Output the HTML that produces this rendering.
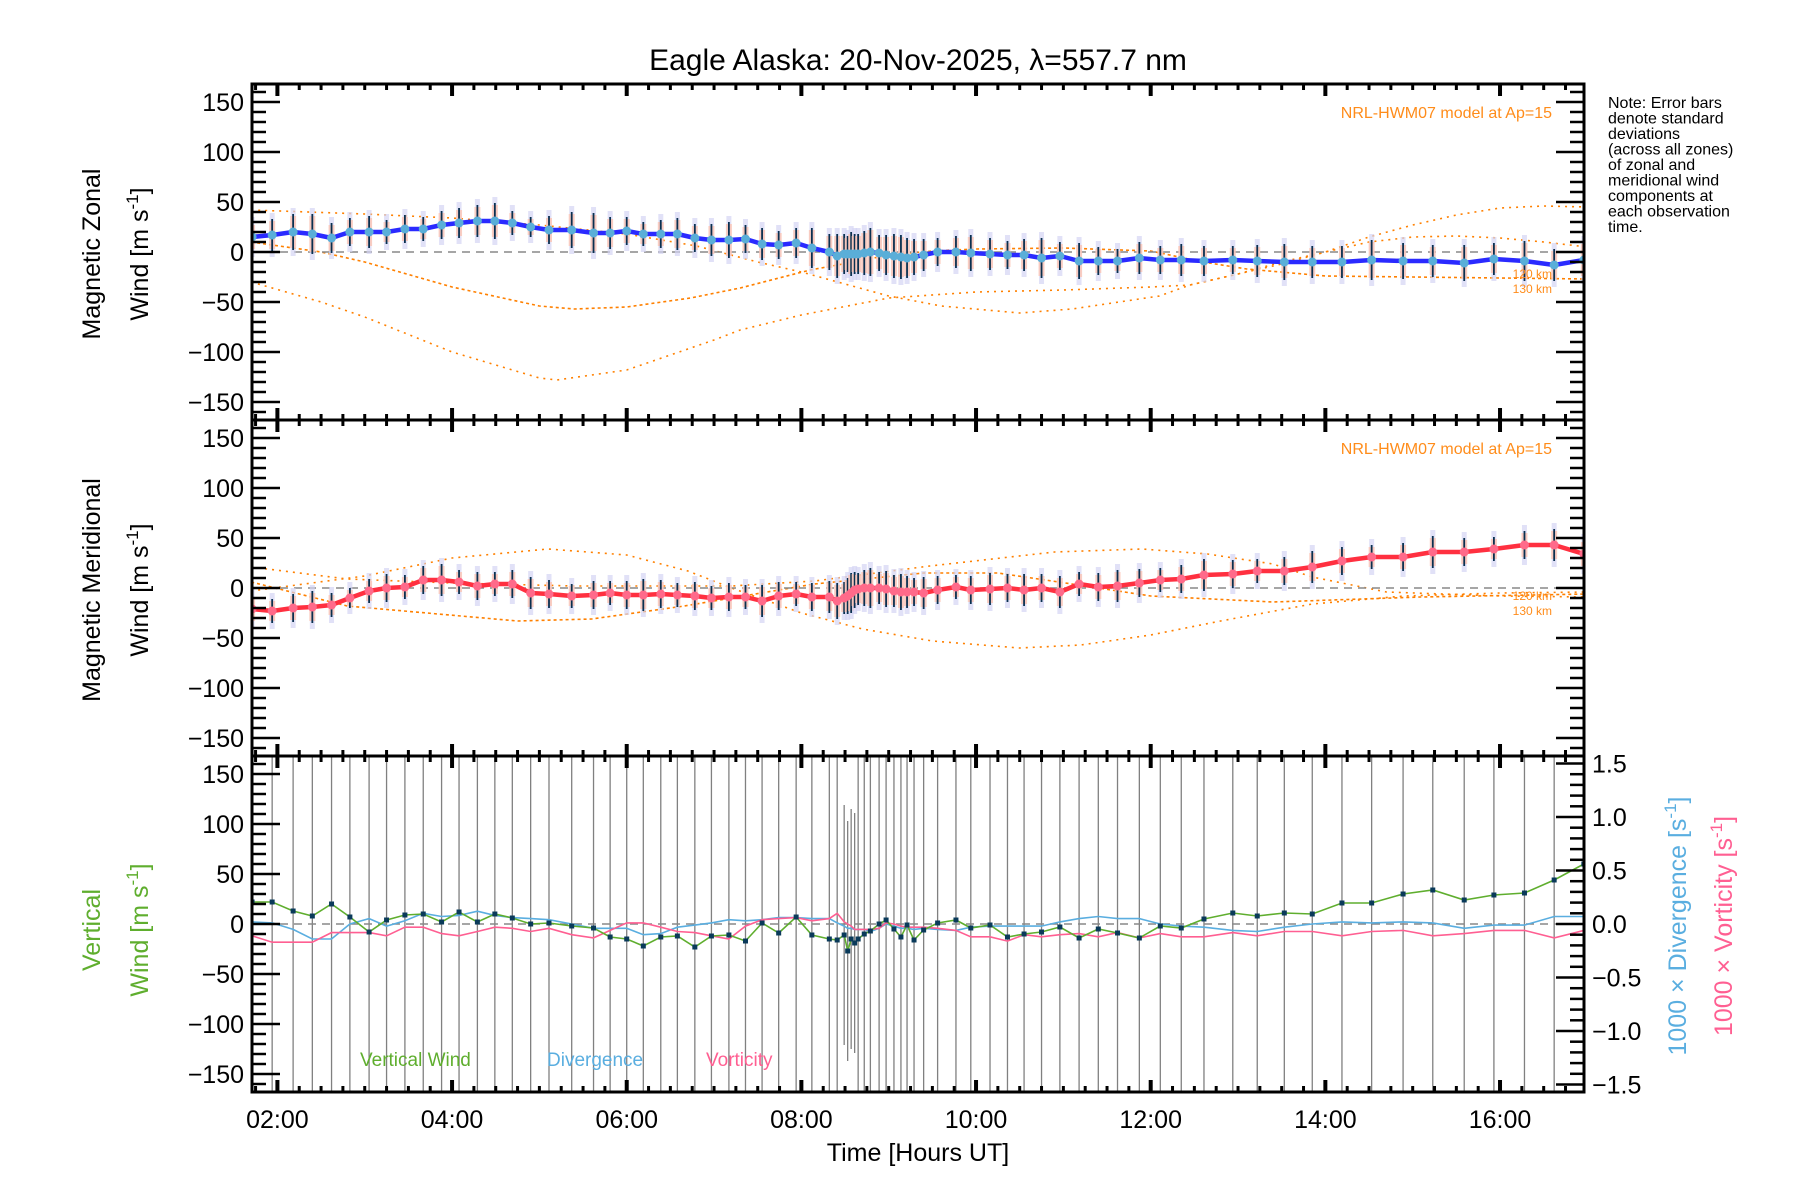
<!DOCTYPE html>
<html><head><meta charset="utf-8"><style>
html,body{margin:0;padding:0;background:#fff;}
svg{display:block;font-family:"Liberation Sans",sans-serif;}
</style></head><body>
<svg id="chart" width="1800" height="1200" viewBox="0 0 1800 1200" xmlns="http://www.w3.org/2000/svg">
<rect x="0" y="0" width="1800" height="1200" fill="#fff"/>
<text x="918" y="70" font-size="30" text-anchor="middle" fill="#000">Eagle Alaska: 20-Nov-2025, λ=557.7 nm</text>
<g id="p1"></g>
<g id="p2"></g>
<g id="p3"></g>
<g id="axes"></g>
<g font-size="16" fill="#000">
<text x="1608" y="108">Note: Error bars</text>
<text x="1608" y="123.5">denote standard</text>
<text x="1608" y="139">deviations</text>
<text x="1608" y="154.5">(across all zones)</text>
<text x="1608" y="170">of zonal and</text>
<text x="1608" y="185.5">meridional wind</text>
<text x="1608" y="201">components at</text>
<text x="1608" y="216.5">each observation</text>
<text x="1608" y="232">time.</text>
</g>
<text transform="translate(100,254) rotate(-90)" font-size="25" text-anchor="middle">Magnetic Zonal</text>
<text transform="translate(148,254) rotate(-90)" font-size="25" text-anchor="middle">Wind [m s<tspan dy="-10" font-size="17">-1</tspan><tspan dy="10">]</tspan></text>
<text transform="translate(100,590) rotate(-90)" font-size="25" text-anchor="middle">Magnetic Meridional</text>
<text transform="translate(148,590) rotate(-90)" font-size="25" text-anchor="middle">Wind [m s<tspan dy="-10" font-size="17">-1</tspan><tspan dy="10">]</tspan></text>
<text transform="translate(100,930) rotate(-90)" font-size="25" text-anchor="middle" fill="#5fae2e">Vertical</text>
<text transform="translate(148,930) rotate(-90)" font-size="25" text-anchor="middle" fill="#5fae2e">Wind [m s<tspan dy="-10" font-size="17">-1</tspan><tspan dy="10">]</tspan></text>
<text transform="translate(1686,926) rotate(-90)" font-size="25" text-anchor="middle" fill="#5aaee0">1000 × Divergence [s<tspan dy="-10" font-size="17">-1</tspan><tspan dy="10">]</tspan></text>
<text transform="translate(1732,926) rotate(-90)" font-size="25" text-anchor="middle" fill="#ff5f92">1000 × Vorticity [s<tspan dy="-10" font-size="17">-1</tspan><tspan dy="10">]</tspan></text>
<text x="918" y="1161" font-size="25" text-anchor="middle">Time [Hours UT]</text>
<text x="360" y="1066" font-size="19" fill="#5fae2e">Vertical Wind</text>
<text x="547" y="1066" font-size="19" fill="#5aaee0">Divergence</text>
<text x="706" y="1066" font-size="19" fill="#ff5f92">Vorticity</text>
<text x="1552" y="118" font-size="16" text-anchor="end" fill="#ff8c1a">NRL-HWM07 model at Ap=15</text>
<text x="1552" y="454" font-size="16" text-anchor="end" fill="#ff8c1a">NRL-HWM07 model at Ap=15</text>
<text x="1552" y="278" font-size="12" text-anchor="end" fill="#ff8c1a">120 km</text>
<text x="1552" y="293" font-size="12" text-anchor="end" fill="#ff8c1a">130 km</text>
<text x="1552" y="600" font-size="12" text-anchor="end" fill="#ff8c1a">120 km</text>
<text x="1552" y="615" font-size="12" text-anchor="end" fill="#ff8c1a">130 km</text>
</svg>
<script>
// ---- data ----
const hours = [1.71,1.94,2.18,2.40,2.62,2.83,3.05,3.25,3.46,3.67,3.88,4.08,4.29,4.49,4.69,4.90,5.11,5.37,5.62,5.81,6.00,6.19,6.39,6.58,6.78,6.97,7.17,7.36,7.55,7.74,7.94,8.12,8.32,8.41,8.49,8.53,8.57,8.61,8.65,8.72,8.79,8.89,8.97,9.06,9.14,9.21,9.29,9.40,9.56,9.77,9.94,10.16,10.36,10.55,10.75,10.96,11.18,11.40,11.62,11.87,12.11,12.35,12.61,12.94,13.22,13.53,13.85,14.19,14.53,14.89,15.23,15.59,15.93,16.28,16.62,16.96];
const zonal = [15,17,20,18,14,20,20,20,23,23,27,29,31,31,29,25,22,22,19,19,21,18,18,18,14,12,12,13,8,7,9,4,0,-4,-2,-2,-2,-2,-2,-1,0,-1,-3,-4,-5,-6,-5,-3,0,0,-1,-2,-3,-3,-6,-4,-9,-9,-9,-6,-8,-8,-9,-8,-9,-10,-10,-10,-8,-9,-9,-11,-7,-9,-13,-8];
const zonalErr = [14,16,18,20,15,14,16,12,14,12,14,15,16,18,12,10,14,18,20,16,14,12,14,16,14,16,18,14,16,14,15,20,18,22,20,18,22,20,20,22,24,18,20,22,22,20,18,16,14,16,18,16,14,16,20,14,18,14,12,16,14,16,15,14,16,18,16,16,20,18,16,18,16,20,16,18];
const merid = [-21,-23,-20,-19,-17,-10,-3,0,1,8,8,6,2,4,4,-5,-6,-8,-7,-5,-7,-7,-6,-7,-8,-10,-9,-9,-13,-8,-6,-9,-9,-13,-10,-8,-5,-2,-1,0,0,0,-1,-3,-4,-4,-4,-5,-2,1,-2,-1,0,-2,0,-4,4,1,2,5,8,9,13,14,17,17,21,27,31,31,36,36,39,43,43,34];
const meridErr = [14,12,14,16,12,10,12,14,12,14,16,12,14,12,14,16,14,12,14,12,14,16,14,12,14,12,14,12,16,14,12,14,16,18,16,18,20,18,16,18,20,16,18,16,18,16,14,16,14,12,14,16,14,16,14,16,12,14,16,14,12,14,16,14,12,14,16,14,12,14,16,14,12,14,16,14];
const vert = [22,22,13,8,20,7,-8,4,9,10,2,12,2,10,6,0,1,-2,-4,-13,-15,-22,-13,-12,-23,-12,-11,-17,1,-9,7,-11,-15,-16,-11,-27,-15,-19,-15,-10,-7,0,4,-5,-13,-1,-16,-6,1,4,-4,-1,-13,-10,-8,-3,-14,-5,-9,-14,-2,-4,5,11,8,11,10,21,21,30,34,24,29,31,44,60];
const diverg = [0.02,0.01,-0.05,-0.14,-0.14,0,0.05,-0.02,0.03,0.10,0.07,0.08,0.12,0.08,0.06,0.05,0.04,0,-0.04,-0.04,-0.04,-0.10,-0.09,-0.03,-0.01,0.01,0.04,0.03,0.04,0.06,0.06,0.05,0.05,0.01,-0.02,-0.04,-0.04,-0.05,-0.05,-0.05,-0.07,-0.04,0,-0.02,-0.04,-0.04,-0.05,-0.04,-0.05,-0.06,-0.03,-0.02,-0.02,-0.02,-0.02,0.02,0.05,0.07,0.05,0.05,0,-0.02,-0.03,-0.06,-0.07,-0.03,0,0.02,0.01,0.02,0.01,-0.04,-0.01,-0.01,0.07,0.07];
const vort = [-0.11,-0.17,-0.17,-0.17,-0.08,-0.08,-0.08,-0.11,-0.03,-0.03,-0.09,-0.11,-0.07,-0.03,-0.04,-0.07,-0.04,-0.10,-0.13,-0.06,0.01,0.01,-0.03,-0.07,-0.08,-0.11,-0.14,-0.02,0.04,0.05,0.06,0.03,0.05,0.10,0.02,0,-0.02,-0.05,-0.05,-0.05,-0.05,-0.04,0.01,0,-0.02,-0.03,-0.03,-0.03,-0.04,-0.06,-0.12,-0.12,-0.16,-0.10,-0.12,-0.10,-0.09,-0.12,-0.08,-0.13,-0.09,-0.12,-0.12,-0.08,-0.11,-0.07,-0.07,-0.11,-0.07,-0.06,-0.11,-0.09,-0.06,-0.06,-0.13,-0.06];
// model curves (hours / m s-1)
const zModelAHours = [1.7,2.5,3,4,5,5.2,6,7,7.3,8,9,10,11,12,12.45,13,13.5,14,14.5,15,15.5,16,16.5,17];
const zModelA = [-30,-50,-65,-100,-126,-128,-118,-88,-78,-63,-46,-40,-38,-35,-33,-22,-12,0,15,27,37,44,46,45];
const zModelBHours = [1.7,2.5,3,4,5,5.4,6,6.73,7.3,8.1,8.6,9,9.5,10,11,12,12.6,13.1,14,15,16,17];
const zModelB = [10,0,-10,-35,-54,-57,-55,-46,-36,-18,-10,-3,1,3,4,1,-10,-17,-24,-25,-26,-27];
const zModelCHours = [1.7,3,4,5,6,6.8,7.5,8,8.5,9,9.6,10.5,11.1,12.1,12.45,13,13.5,14,14.5,15,15.5,16,16.5,17];
const zModelC = [42,38,34,27,18,6,-10,-20,-32,-44,-54,-61,-57,-44,-33,-22,-10,0,10,15,16,14,10,5];
const mModelPHours = [1.7,3,4,5.1,6,6.7,7.2,8,8.7,9.5,10.5,11.2,12,12.8,13.85,14.9,16,17];
const mModelP = [-3,12,30,39,33,17,0,-25,-41,-53,-60,-57,-47,-33,-16,-8,-5,-4];
const mModelQHours = [1.7,2.8,4,5.4,7.2,8.15,9.47,10.9,11.9,12.65,13.4,13.85,14.7,16,17];
const mModelQ = [21,9,5,2,2,7,22,36,39,34,24,11,-4,-8,-9];
const mModelRHours = [1.7,2.8,4.75,5.6,6.66,8.15,9.4,10.25,11.1,12,13.4,15.1,17];
const mModelR = [6,-18,-33,-31,-18,4,15,15,4,-8,-14,-9,-6];
const yTicks = [-150,-100,-50,0,50,100,150];
const rTicks = [-1.5,-1.0,-0.5,0.0,0.5,1.0,1.5];
const xTickHours = [2,4,6,8,10,12,14,16];
const xTickLabels = ["02:00","04:00","06:00","08:00","10:00","12:00","14:00","16:00"];

// ---- geometry ----
const NS="http://www.w3.org/2000/svg";
const L=252, R=1584;
const tops=[84,420,756], H=336;
const X0=277.4, PXH=87.33;
function xs(t){return X0+(t-2)*PXH;}
function ys(p,v){return tops[p]+168-v;}
function yr(v){return tops[2]+168-v*107;}
function mk(tag,attrs,parent){const e=document.createElementNS(NS,tag);for(const k in attrs)e.setAttribute(k,attrs[k]);parent.appendChild(e);return e;}
const svg=document.getElementById('chart');
const defs=mk('defs',{},svg);
for(let p=0;p<3;p++){const c=mk('clipPath',{id:'clip'+p},defs);mk('rect',{x:L,y:tops[p],width:R-L,height:H},c);}
const groups=[document.getElementById('p1'),document.getElementById('p2'),document.getElementById('p3')];
groups.forEach((g,i)=>g.setAttribute('clip-path','url(#clip'+i+')'));

function zeroLine(p,g){const l=mk('line',{x1:L,x2:R,y1:ys(p,0),y2:ys(p,0),stroke:'#888','stroke-width':1.5,'stroke-dasharray':'8,6'},g);

}
function pathD(hs,vs,fy){return hs.map((h,i)=>(i?'L':'M')+xs(h).toFixed(1)+','+fy(vs[i]).toFixed(1)).join(' ');}
function model(p,g,hs,vs,dash,name){const e=mk('path',{d:pathD(hs,vs,v=>ys(p,v)),fill:'none',stroke:'#ff8000','stroke-width':1.6,'stroke-dasharray':dash},g);

}

function windPanel(p,vals,errs,color,name){
  const g=groups[p];
  zeroLine(p,g);
  hours.forEach((h,i)=>{
    const x=xs(h), v=vals[i], e=errs[i];
    const bg=mk('rect',{x:x-2.5,y:ys(p,v+e+6),width:5,height:2*e+12,fill:'#d4d4f4',opacity:0.7},g);
    
    
    const sb=mk('rect',{x:x-3,y:ys(p,v+e-2),width:6,height:2*e-4,fill:'#fbc4b4',opacity:0.8},g);
    
    
    const eb=mk('line',{x1:x,x2:x,y1:ys(p,v+e),y2:ys(p,v-e),stroke:'#0a3050','stroke-width':1.8},g);
    
    
  });
  const ln=mk('path',{d:pathD(hours,vals,v=>ys(p,v)),fill:'none',stroke:color,'stroke-width':4.5,'stroke-linejoin':'round'},g);
  
  
  hours.forEach((h,i)=>{
    const c=mk('circle',{cx:xs(h),cy:ys(p,vals[i]),r:4.5,fill:p===0?'#5aaed8':'#ff6a8a'},g);
    
    
  });
}
model(0,groups[0],zModelAHours,zModelA,'2,5','model-zonal-a');
model(0,groups[0],zModelBHours,zModelB,'3,3','model-zonal-120km');
model(0,groups[0],zModelCHours,zModelC,'2,5','model-zonal-130km');
windPanel(0,zonal,zonalErr,'#2a2aff','zonal-wind');
model(1,groups[1],mModelPHours,mModelP,'2,5','model-merid-a');
model(1,groups[1],mModelQHours,mModelQ,'2,5','model-merid-130km');
model(1,groups[1],mModelRHours,mModelR,'3,3','model-merid-120km');
windPanel(1,merid,meridErr,'#ff3040','meridional-wind');
(function(){
  const g=groups[2];
  hours.forEach((h,i)=>{
    const x=xs(h);
    const short=(h>=8.45&&h<=8.62);
    const vl=mk('line',{x1:x,x2:x,y1:short?ys(2,vert[i]+130):tops[2],y2:short?ys(2,vert[i]-110):tops[2]+H,stroke:'#808080','stroke-width':1.3},g);
    
    
  });
  zeroLine(2,g);
  const d1=mk('path',{d:pathD(hours,diverg,yr),fill:'none',stroke:'#5aaee0','stroke-width':1.6},g);
  
  
  const v1=mk('path',{d:pathD(hours,vort,yr),fill:'none',stroke:'#ff5f92','stroke-width':1.6},g);
  
  
  const w1=mk('path',{d:pathD(hours,vert,v=>ys(2,v)),fill:'none',stroke:'#5fae2e','stroke-width':1.6},g);
  
  
  hours.forEach((h,i)=>{
    const s=mk('rect',{x:xs(h)-2.5,y:ys(2,vert[i])-2.5,width:5,height:5,fill:'#0a3a5a'},g);
    
    
  });
})();

const ax=document.getElementById('axes');
for(let p=0;p<3;p++){
  const f=mk('rect',{x:L,y:tops[p],width:R-L,height:H,fill:'none',stroke:'#000','stroke-width':3},ax);
  
  
  for(let v=-160;v<=160;v+=10){
    const y=ys(p,v); if(y<tops[p]+2||y>tops[p]+H-2)continue;
    const maj=(v%50===0);
    const tk=mk('line',{x1:L,x2:L+(maj?28:14),y1:y,y2:y,stroke:'#000','stroke-width':2.5},ax);
    
    
    if(p<2){
      const tr=mk('line',{x1:R,x2:R-(maj?28:14),y1:y,y2:y,stroke:'#000','stroke-width':2.5},ax);
      
      
    }
  }
  yTicks.forEach(v=>{
    const t=mk('text',{x:L-8,y:ys(p,v)+9,'font-size':25,'text-anchor':'end',fill:'#000'},ax);
    
    
    t.textContent=(v<0?'\u2212'+(-v):String(v));
  });
  for(let m=0;m*0.25+1.75<=17;m++){
    const h=1.75+m*0.25, x=xs(h); if(x<L+2||x>R-2)continue;
    const maj=(Math.abs(h-Math.round(h))<1e-6&&Math.round(h)%2===0);
    const len=maj?12:6;
    const t1=mk('line',{x1:x,x2:x,y1:tops[p],y2:tops[p]+len,stroke:'#000','stroke-width':maj?4:3},ax);
    
    
    const t2=mk('line',{x1:x,x2:x,y1:tops[p]+H,y2:tops[p]+H-len,stroke:'#000','stroke-width':maj?4:3},ax);
    
    
  }
}
for(let k=-15;k<=15;k++){
  const v=k/10, y=yr(v); if(y<tops[2]+2||y>tops[2]+H-2)continue;
  const maj=(k%5===0);
  const tk=mk('line',{x1:R,x2:R-(maj?28:14),y1:y,y2:y,stroke:'#000','stroke-width':2.5},ax);
  
  
}
rTicks.forEach(v=>{
  const t=mk('text',{x:R+8,y:yr(v)+9,'font-size':25,fill:'#000'},ax);
  
  
  t.textContent=(v<0?'\u2212':'')+Math.abs(v).toFixed(1);
});
xTickHours.forEach((h,i)=>{
  const t=mk('text',{x:xs(h),y:1128,'font-size':25,'text-anchor':'middle',fill:'#000'},ax);
  
  
  t.textContent=xTickLabels[i];
});
</script>
</body></html>
